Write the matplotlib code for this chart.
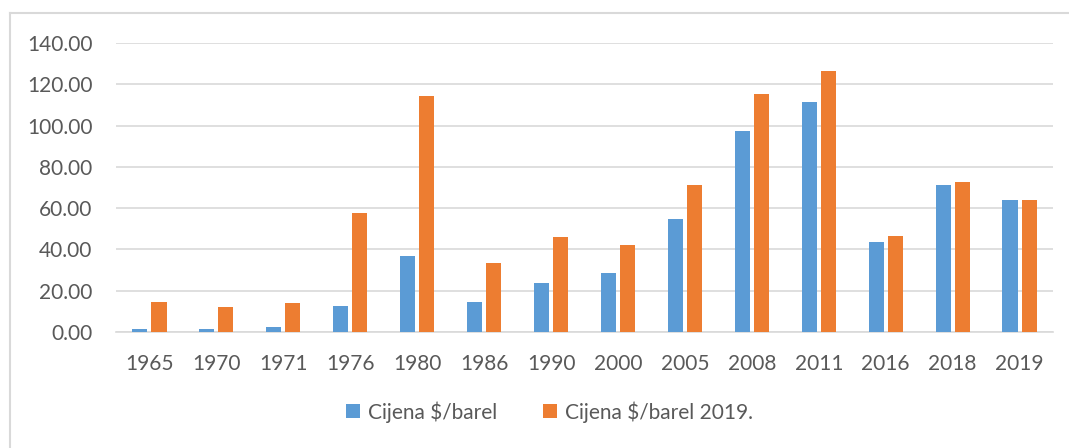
import numpy as np
import matplotlib.pyplot as plt
from matplotlib.lines import Line2D

years = ['1965', '1970', '1971', '1976', '1980', '1986', '1990', '2000',
         '2005', '2008', '2011', '2016', '2018', '2019']
cijena = [1.6, 1.6, 2.3, 12.7, 36.7, 14.5, 23.7, 28.4, 54.5, 97.3, 111.2, 43.7, 71.2, 64.0]
cijena_2019 = [14.5, 11.9, 14.2, 57.5, 114.2, 33.5, 46.2, 42.2, 71.2, 115.4, 126.3, 46.4, 72.5, 64.0]

W, H = 1069, 448
plt.rcParams['font.family'] = ['Lato', 'DejaVu Sans']
fig = plt.figure(figsize=(W / 100, H / 100), dpi=100)
ax = fig.add_axes([116 / W, (H - 332) / H, (1053 - 116) / W, (332 - 43) / H])

x = np.arange(len(years))
bw = 0.225
off = bw / 2 + 0.03
ax.bar(x - off, cijena, bw, color='#5b9bd5', label='Cijena $/barel', zorder=3)
ax.bar(x + off, cijena_2019, bw, color='#ed7d31', label='Cijena $/barel 2019.', zorder=3)

ax.set_xlim(-0.5, len(years) - 0.5)
ax.set_ylim(0, 140)
ax.set_yticks(np.arange(0, 141, 20))
ax.set_yticklabels([f'{v:.2f}' for v in np.arange(0, 141, 20)])
ax.set_xticks(x)
ax.set_xticklabels(years)
ax.yaxis.grid(True, color='#d9d9d9', linewidth=1.2, zorder=0)
for s in ['top', 'right', 'left']:
    ax.spines[s].set_visible(False)
ax.spines['bottom'].set_color('#d9d9d9')
ax.spines['bottom'].set_linewidth(1.2)
ax.tick_params(axis='both', length=0, labelsize=15, labelcolor='#595959')
ax.tick_params(axis='y', pad=17)
ax.tick_params(axis='x', pad=16)

ax.legend(loc='center', bbox_to_anchor=(0.5 + 15 / W, (448 - 412) / H), bbox_transform=fig.transFigure,
          ncol=2, frameon=False, fontsize=15, labelcolor='#595959',
          handlelength=0.65, handleheight=0.65, handletextpad=0.4, columnspacing=2.2)

# chart border (top and left edges visible)
fig.add_artist(Line2D([10 / W, 1], [1 - 13 / H, 1 - 13 / H], color='#d9d9d9', lw=1.5))
fig.add_artist(Line2D([10 / W, 10 / W], [0, 1 - 13 / H], color='#d9d9d9', lw=1.5))

fig.savefig('out.png', dpi=100)
